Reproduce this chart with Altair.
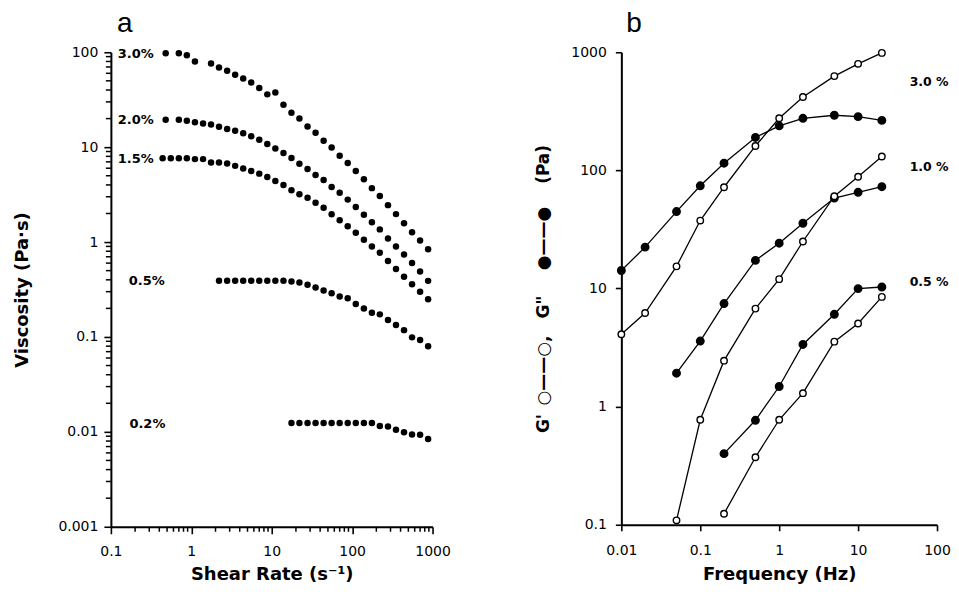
import altair as alt
import pandas as pd

# ---------------- Panel a : viscosity vs shear rate ----------------
rate_30 = [0.48, 0.70, 0.88, 1.11, 1.76, 2.21, 2.79, 3.51, 4.42, 5.56, 7.0, 8.81, 11.1, 14.0, 17.6, 22.1,
           27.9, 35.1, 44.2, 55.6, 70.0, 88.1, 111, 140, 176, 221, 279, 351, 442, 556, 700, 881]
visc_30 = [97.5, 97.5, 93, 80, 76, 69, 64, 58, 53, 48, 42, 36, 37.7, 28, 23, 20,
           16.5, 14.2, 11.7, 9.9, 8.1, 6.8, 5.6, 4.6, 3.7, 3.06, 2.45, 1.97, 1.58, 1.27, 1.04, 0.84]

rate_20 = [0.48, 0.70, 0.88, 1.11, 1.40, 1.76, 2.21, 2.79, 3.51, 4.42, 5.56, 7.0, 8.81, 11.1, 14.0, 17.6, 22.1,
           27.9, 35.1, 44.2, 55.6, 70.0, 88.1, 111, 140, 176, 221, 279, 351, 442, 556, 700, 881]
visc_20 = [19.4, 19.4, 19.0, 18.3, 17.8, 17.3, 16.4, 15.5, 14.9, 14.0, 13.0, 12.0, 10.8, 9.7, 8.7, 7.7, 6.7,
           5.9, 5.1, 4.5, 3.8, 3.3, 2.8, 2.34, 1.94, 1.62, 1.36, 1.09, 0.90, 0.74, 0.60, 0.49, 0.39]

rate_15 = [0.44, 0.556, 0.70, 0.88, 1.11, 1.40, 1.76, 2.21, 2.79, 3.51, 4.42, 5.56, 7.0, 8.81, 11.1, 14.0, 17.6,
           22.1, 27.9, 35.1, 44.2, 55.6, 70.0, 88.1, 111, 140, 176, 221, 279, 351, 442, 556, 700, 881]
visc_15 = [7.66, 7.66, 7.66, 7.66, 7.48, 7.48, 6.89, 6.89, 6.72, 6.35, 5.95, 5.62, 5.26, 4.85, 4.40, 4.00, 3.51,
           3.19, 2.93, 2.60, 2.30, 1.96, 1.70, 1.47, 1.25, 1.06, 0.90, 0.77, 0.63, 0.52, 0.43, 0.36, 0.30, 0.25]

rate_05 = [2.21, 2.79, 3.51, 4.42, 5.56, 7.0, 8.81, 11.1, 14.0, 17.6, 22.1, 27.9, 35.1, 44.2, 55.6, 70.0,
           88.1, 111, 140, 176, 221, 279, 351, 442, 556, 700, 881]
visc_05 = [0.391, 0.391, 0.391, 0.391, 0.391, 0.391, 0.391, 0.391, 0.391, 0.385, 0.375, 0.355, 0.332, 0.308,
           0.289, 0.267, 0.256, 0.223, 0.200, 0.180, 0.173, 0.151, 0.134, 0.118, 0.099, 0.093, 0.080]

rate_02 = [17.6, 22.1, 27.9, 35.1, 44.2, 55.6, 70.0, 88.1, 111, 140, 176, 221, 279, 351, 442, 556, 700, 881]
visc_02 = [0.0124, 0.0124, 0.0124, 0.0124, 0.0124, 0.0124, 0.0124, 0.0124, 0.0124, 0.0124, 0.0124,
           0.0115, 0.0114, 0.0105, 0.0099, 0.0094, 0.0093, 0.0084]

labels_a = ["3.0%", "2.0%", "1.5%", "0.5%", "0.2%"]
labels_a_x = [0.122, 0.122, 0.122, 0.167, 0.170]
labels_a_y = [97, 19.4, 7.5, 0.39, 0.0122]

x_major_a = [0.1, 1, 10, 100, 1000]
x_minor_a = [0.2, 0.3, 0.4, 0.5, 0.6, 0.7, 0.8, 0.9, 2, 3, 4, 5, 6, 7, 8, 9,
             20, 30, 40, 50, 60, 70, 80, 90, 200, 300, 400, 500, 600, 700, 800, 900]
y_major_a = [0.001, 0.01, 0.1, 1, 10, 100]
y_minor_a = [0.002, 0.003, 0.004, 0.005, 0.006, 0.007, 0.008, 0.009,
             0.02, 0.03, 0.04, 0.05, 0.06, 0.07, 0.08, 0.09,
             0.2, 0.3, 0.4, 0.5, 0.6, 0.7, 0.8, 0.9,
             2, 3, 4, 5, 6, 7, 8, 9, 20, 30, 40, 50, 60, 70, 80, 90]

# ---------------- Panel b : G' and G'' vs frequency ----------------
freq_30 = [0.01, 0.02, 0.05, 0.1, 0.2, 0.5, 1, 2, 5, 10, 20]
g2_30 = [14.2, 22.4, 44.8, 74, 115, 190, 238, 276, 293, 285, 265]
g1_30 = [4.1, 6.2, 15.4, 37.6, 72, 161, 276, 418, 628, 798, 988]
freq_10 = [0.05, 0.1, 0.2, 0.5, 1, 2, 5, 10, 20]
g2_10 = [1.92, 3.59, 7.46, 17.3, 24.2, 35.7, 58.3, 65.2, 72.8]
g1_10 = [0.109, 0.774, 2.45, 6.76, 12.0, 25.0, 60.4, 88.3, 131]
freq_05 = [0.2, 0.5, 1, 2, 5, 10, 20]
g2_05 = [0.40, 0.766, 1.48, 3.36, 6.05, 9.98, 10.3]
g1_05 = [0.124, 0.373, 0.774, 1.30, 3.55, 5.05, 8.49]

labels_b = ["3.0 %", "1.0 %", "0.5 %"]
labels_b_x = [45, 45, 45]
labels_b_y = [556, 107, 11.4]

x_major_b = [0.01, 0.1, 1, 10, 100]
y_major_b = [0.1, 1, 10, 100, 1000]

# ---------------- tables ----------------
rows = []
for conc, xs, ys in [("3.0", rate_30, visc_30), ("2.0", rate_20, visc_20), ("1.5", rate_15, visc_15),
                     ("0.5", rate_05, visc_05), ("0.2", rate_02, visc_02)]:
    for x, y in zip(xs, ys):
        rows.append({"rate": x, "visc": y, "conc": conc})
df_a = pd.DataFrame(rows)
df_a_lab = pd.DataFrame({"rate": labels_a_x, "visc": labels_a_y, "text": labels_a})

rows = []
for conc, xs, g1, g2 in [("3.0", freq_30, g1_30, g2_30), ("1.0", freq_10, g1_10, g2_10),
                         ("0.5", freq_05, g1_05, g2_05)]:
    for x, a, b in zip(xs, g1, g2):
        rows.append({"freq": x, "val": a, "kind": "Gp", "series": conc + "Gp"})
        rows.append({"freq": x, "val": b, "kind": "Gpp", "series": conc + "Gpp"})
df_b = pd.DataFrame(rows)
df_b_lab = pd.DataFrame({"freq": labels_b_x, "val": labels_b_y, "text": labels_b})

FONT = "DejaVu Sans"
H_A, H_B = 475, 473
EN = "\u2002"
NB = "\u00a0"
TITLE_B = ("G'" + EN + "\u25cb\u2014\u2014\u25cb," + EN + EN + "G\"" + EN + EN + EN +
           "\u25cf\u2014\u2014\u25cf" + EN + EN + NB + "(Pa)")


def make_axis(values, title, tick, pad, tpad, orient, tfs=18):
    return alt.Axis(values=values, format="~g", grid=False, orient=orient,
                    domainColor="black", domainWidth=2, tickColor="black", tickWidth=1.6,
                    tickSize=tick, labelPadding=pad, labelFont=FONT, labelFontSize=14,
                    labelColor="black", labelFlush=False, labelOverlap=False,
                    title=title, titleFont=FONT, titleFontSize=tfs, titleFontWeight="bold",
                    titleColor="black", titlePadding=tpad)


xs_a = alt.Scale(type="log", domain=[0.1, 1000], nice=False)
ys_a = alt.Scale(type="log", domain=[0.001, 100], nice=False)
ax_x_a = make_axis(x_major_a, "Shear Rate (s\u207b\u00b9)", 7, 11, 7, "bottom")
ax_y_a = make_axis(y_major_a, "Viscosity (Pa\u00b7s)", 7, 6, 26, "left")

pts_a = alt.Chart(df_a).mark_circle(size=42, color="black", opacity=1).encode(
    x=alt.X("rate:Q", scale=xs_a, axis=ax_x_a),
    y=alt.Y("visc:Q", scale=ys_a, axis=ax_y_a),
)
xminor_a = alt.Chart(pd.DataFrame({"v": x_minor_a})).mark_rule(color="black", strokeWidth=1.5).encode(
    x=alt.X("v:Q", scale=xs_a, axis=ax_x_a), y=alt.value(H_A), y2=alt.value(H_A + 5))
yminor_a = alt.Chart(pd.DataFrame({"v": y_minor_a})).mark_rule(color="black", strokeWidth=1.5).encode(
    y=alt.Y("v:Q", scale=ys_a, axis=ax_y_a), x=alt.value(0), x2=alt.value(-5))
lab_a = alt.Chart(df_a_lab).mark_text(align="left", baseline="middle", font=FONT, fontSize=13,
                                      fontWeight="bold", color="black").encode(
    x=alt.X("rate:Q", scale=xs_a, axis=ax_x_a), y=alt.Y("visc:Q", scale=ys_a, axis=ax_y_a), text="text:N")
title_a = alt.Chart(pd.DataFrame({"t": ["a"]})).mark_text(
    align="left", baseline="alphabetic", font="Liberation Sans", fontSize=28, color="black").encode(
    x=alt.value(6), y=alt.value(-20), text="t:N")

panel_a = alt.layer(pts_a, xminor_a, yminor_a, lab_a, title_a).properties(width=322, height=H_A)

xs_b = alt.Scale(type="log", domain=[0.01, 100], nice=False)
ys_b = alt.Scale(type="log", domain=[0.1, 1000], nice=False)

lines_b = alt.Chart(df_b).mark_line(color="black", strokeWidth=1.3).encode(
    x=alt.X("freq:Q", scale=xs_b, axis=make_axis(x_major_b, "Frequency (Hz)", 6, 13, 8, "bottom")),
    y=alt.Y("val:Q", scale=ys_b, axis=make_axis(y_major_b, TITLE_B, 6, 9, 18, "left", 17)),
    detail="series:N",
)
filled_b = alt.Chart(df_b).transform_filter(alt.datum.kind == "Gpp").mark_point(
    shape="circle", filled=True, fill="black", stroke="black", size=48, opacity=1).encode(
    x=alt.X("freq:Q", scale=xs_b), y=alt.Y("val:Q", scale=ys_b))
open_b = alt.Chart(df_b).transform_filter(alt.datum.kind == "Gp").mark_point(
    shape="circle", filled=True, fill="white", stroke="black", strokeWidth=1.4, size=42, opacity=1).encode(
    x=alt.X("freq:Q", scale=xs_b), y=alt.Y("val:Q", scale=ys_b))
lab_b = alt.Chart(df_b_lab).mark_text(align="left", baseline="middle", font=FONT, fontSize=12.5,
                                      fontWeight="bold", color="black").encode(
    x=alt.X("freq:Q", scale=xs_b), y=alt.Y("val:Q", scale=ys_b), text="text:N")
title_b = alt.Chart(pd.DataFrame({"t": ["b"]})).mark_text(
    align="left", baseline="alphabetic", font="Liberation Sans", fontSize=28, color="black").encode(
    x=alt.value(5), y=alt.value(-20), text="t:N")

panel_b = alt.layer(lines_b, filled_b, open_b, lab_b, title_b).properties(width=316, height=H_B)

chart = alt.hconcat(panel_a, panel_b, spacing=189, bounds="flush").properties(
    padding={"left": 5, "top": 2, "right": 0, "bottom": 0}
).configure_view(stroke=None)

chart.save("out.html", embed_options={"renderer": "svg", "actions": False})
